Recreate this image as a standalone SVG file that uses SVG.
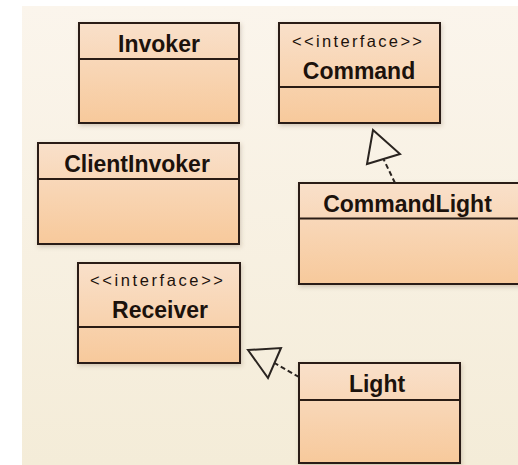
<svg xmlns="http://www.w3.org/2000/svg" width="518" height="465" viewBox="0 0 518 465">
  <defs>
    <linearGradient id="bg" x1="0" y1="0" x2="0" y2="1">
      <stop offset="0" stop-color="#fbf5ec"/>
      <stop offset="1" stop-color="#f4ecd8"/>
    </linearGradient>
    <linearGradient id="boxFill" x1="0" y1="0" x2="0" y2="1">
      <stop offset="0" stop-color="#f9e0ca"/>
      <stop offset="1" stop-color="#f7c99b"/>
    </linearGradient>
    <filter id="shadow" x="-10%" y="-10%" width="125%" height="130%">
      <feDropShadow dx="1" dy="2" stdDeviation="2" flood-color="#5a4a30" flood-opacity="0.25"/>
    </filter>
  </defs>
  <style>
    .box { fill: url(#boxFill); stroke: #2a1c14; stroke-width: 2; filter: url(#shadow); }
    .div { stroke: #2a1c14; stroke-width: 2; }
    .name { font-family: "Liberation Sans", Arial, sans-serif; font-weight: bold; font-size: 23px; fill: #1c120c; text-anchor: middle; }
    .stereo { font-family: "Liberation Sans", Arial, sans-serif; font-size: 16.5px; fill: #1c120c; text-anchor: middle; }
    .dep { fill: none; stroke: #2a2420; stroke-width: 2; stroke-dasharray: 5 3; }
    .head { fill: none; stroke: #2a2420; stroke-width: 2; stroke-linejoin: miter; }
  </style>

  <rect x="0" y="0" width="518" height="465" fill="#ffffff"/>
  <rect x="22" y="6" width="496" height="459" fill="url(#bg)"/>

  <g id="Invoker">
    <rect class="box" x="79" y="23" width="160" height="100"/>
    <line class="div" x1="79" y1="59" x2="239" y2="59"/>
    <text class="name" x="159" y="52">Invoker</text>
  </g>

  <g id="Command">
    <rect class="box" x="279" y="23" width="161" height="100"/>
    <line class="div" x1="279" y1="87" x2="440" y2="87"/>
    <text class="stereo" x="357" y="47" textLength="130" lengthAdjust="spacing">&lt;&lt;interface&gt;&gt;</text>
    <text class="name" x="359" y="79">Command</text>
  </g>

  <g id="ClientInvoker">
    <rect class="box" x="38" y="143" width="201" height="101"/>
    <line class="div" x1="38" y1="179" x2="239" y2="179"/>
    <text class="name" x="137" y="172">ClientInvoker</text>
  </g>

  <g id="CommandLight">
    <rect class="box" x="299" y="183" width="225" height="101"/>
    <line class="div" x1="299" y1="218.5" x2="524" y2="218.5"/>
    <text class="name" x="407.5" y="212">CommandLight</text>
  </g>

  <g id="Receiver">
    <rect class="box" x="78" y="263" width="162" height="100"/>
    <line class="div" x1="78" y1="327" x2="240" y2="327"/>
    <text class="stereo" x="156.5" y="286" textLength="133" lengthAdjust="spacing">&lt;&lt;interface&gt;&gt;</text>
    <text class="name" x="160" y="318">Receiver</text>
  </g>

  <g id="Light">
    <rect class="box" x="299" y="363" width="161" height="100"/>
    <line class="div" x1="299" y1="400" x2="460" y2="400"/>
    <text class="name" x="377" y="392">Light</text>
  </g>

  <g id="connectors">
    <!-- CommandLight realizes Command -->
    <line class="dep" x1="395" y1="183" x2="383.5" y2="159"/>
    <polygon class="head" points="373,130 400,154 367,164"/>
    <!-- Light realizes Receiver -->
    <line class="dep" x1="299" y1="377" x2="274.5" y2="363"/>
    <polygon class="head" points="248,350 281,348 268,378"/>
  </g>
</svg>
